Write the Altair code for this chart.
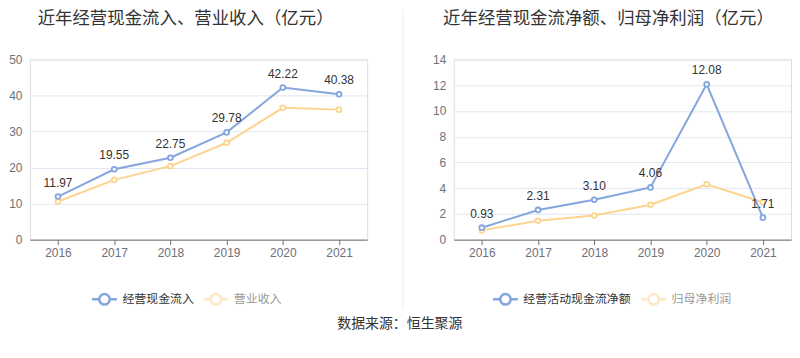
import altair as alt
import pandas as pd

years = ["2016", "2017", "2018", "2019", "2020", "2021"]
cash_in = [11.97, 19.55, 22.75, 29.78, 42.22, 40.38]
revenue = [10.6, 16.6, 20.4, 26.9, 36.6, 36.1]
net_cf = [0.93, 2.31, 3.10, 4.06, 12.08, 1.71]
net_profit = [0.72, 1.47, 1.88, 2.71, 4.30, 2.91]

BLUE = "#84a5dd"
YEL = "#fcd48f"
FONT = "Liberation Sans, Noto Sans CJK SC, sans-serif"
SYM = "M-1,0H-0.42M0.42,0H1M0.42,0A0.42,0.42,0,1,1,-0.42,0A0.42,0.42,0,1,1,0.42,0"


def panel(title, name1, vals1, name2, vals2, ymax, ystep, lx1, lx2, dx):
    df = pd.DataFrame({
        "year": years, "v1": vals1, "v2": vals2,
        "s1": [name1] * len(years), "s2": [name2] * len(years),
        "lab": [f"{v:.2f}" for v in vals1],
    })
    base = alt.Chart(df)
    x = alt.X("year:O", title=None, axis=alt.Axis(
        labelAngle=0, domainColor="#6e7079", tickColor="#6e7079", tickSize=5,
        labelColor="#6e7079", labelFontSize=12, labelPadding=3, grid=False))
    yscale = alt.Scale(domain=[0, ymax], nice=False)
    yaxis = alt.Axis(values=list(range(0, ymax + 1, ystep)), domain=False, ticks=False,
                     gridColor="#e0e6f1", labelColor="#6e7079", labelFontSize=12,
                     labelPadding=8, title=None)

    def yenc(f):
        return alt.Y(f, scale=yscale, axis=yaxis, title=None)

    leg_common = dict(orient="none", legendY=227, title=None, symbolType=SYM,
                      symbolSize=625, symbolStrokeWidth=2.5, labelFontSize=12,
                      labelOffset=4, padding=0, labelFont=FONT)
    line2 = base.mark_line(strokeWidth=2).encode(
        x=x, y=yenc("v2:Q"),
        stroke=alt.Stroke("s2:N", scale=alt.Scale(domain=[name2], range=[YEL]),
                          legend=alt.Legend(legendX=lx2, labelColor="#999999",
                                            symbolOpacity=0.5, **leg_common)))
    pts2 = base.mark_point(filled=False, fill="white", size=24, strokeWidth=1.8,
                           color=YEL, opacity=1).encode(x=x, y=yenc("v2:Q"))
    line1 = base.mark_line(strokeWidth=2).encode(
        x=x, y=yenc("v1:Q"),
        color=alt.Color("s1:N", scale=alt.Scale(domain=[name1], range=[BLUE]),
                        legend=alt.Legend(legendX=lx1, labelColor="#333333", **leg_common)))
    pts1 = base.mark_point(filled=False, fill="white", size=24, strokeWidth=1.8,
                           color=BLUE, opacity=1).encode(x=x, y=yenc("v1:Q"))
    txt = base.mark_text(dy=-7, baseline="bottom", fontSize=12, color="#333333").encode(
        x=x, y=yenc("v1:Q"), text="lab:N")
    return alt.layer(line2, pts2, line1, pts1, txt).properties(
        width=339, height=181,
        title=alt.Title(title, fontSize=17.5, fontWeight="normal", color="#333333",
                        anchor="middle", dx=dx, offset=26, font=FONT))


left = panel("近年经营现金流入、营业收入（亿元）", "经营现金流入", cash_in, "营业收入", revenue,
             50, 10, 61, 173, -13)
right = panel("近年经营现金流净额、归母净利润（亿元）", "经营活动现金流净额", net_cf, "归母净利润",
              net_profit, 14, 2, 38, 187, -14)

sep = alt.Chart(pd.DataFrame({"k": [0]})).mark_rule(color="#eeeeee", strokeWidth=1).encode(
    x=alt.value(7), y=alt.value(-50), y2=alt.value(251)
).properties(width=8, height=181, view=alt.ViewBackground(stroke="transparent", fill="transparent"))

chart = alt.hconcat(left, sep, right, spacing=27).resolve_scale(
    color="independent", stroke="independent", y="independent", x="independent"
).resolve_legend(color="independent", stroke="independent").properties(
    title=alt.Title("数据来源：恒生聚源", orient="bottom", anchor="middle", fontSize=14,
                    fontWeight="normal", color="#333333", offset=6, font=FONT),
    padding={"left": 0, "top": 0, "right": 0, "bottom": 0},
).configure_view(stroke=None).configure(font=FONT)

chart.save("out.html", embed_options={"renderer": "svg", "actions": False})
